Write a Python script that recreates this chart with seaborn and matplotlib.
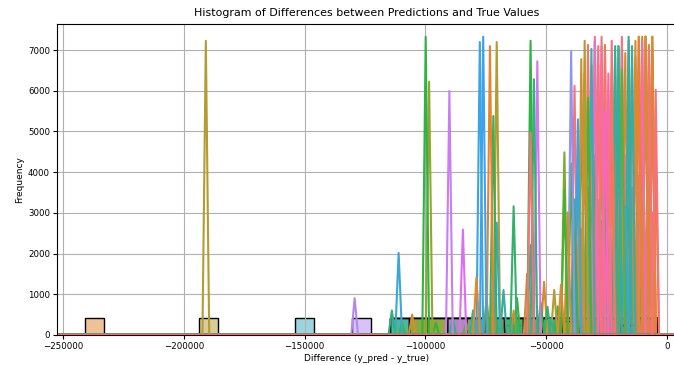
import numpy as np
import pandas as pd
import matplotlib
matplotlib.use("Agg")
import matplotlib.pyplot as plt
import seaborn as sns

# one group per spike: where the spike stands (x), the height its KDE line reaches
# and the line hue (husl degrees), all read off the chart
centers = [-5000, -240700, -191300, -150400, -129500,
           -113200, -111750, -104500, -99750, -98500, -93500, -90200, -87000, -84400, -81000,
           -78600, -77400, -76200, -73700, -72400, -70800, -70000, -65500, -62900, -60500,
           -57100, -55900, -54600, -53400, -49700, -47800, -45500, -43900, -42600, -41800,
           -40500, -39300, -38500, -37700, -36800, -35600, -34400, -33000, -31900, -30800,
           -29800, -29000, -28200, -27300, -26200, -25200, -24000, -23000, -22500, -21900,
           -20300, -19500, -18500, -17400, -16500, -15700, -14500, -13200, -12000, -11200,
           -10300, -9500, -8300, -7300, -6200, -5600,
           # the crowded right part
           -39800, -38900, -38000, -37200, -36300, -35100, -34900, -33700, -33300, -32500,
           -32100, -31400, -30500, -30100, -29500, -28700, -27900, -27700, -26800, -26500,
           -25700, -25000, -24500, -23600, -23300, -22800, -22100, -21300, -20900, -20000,
           -19100, -18900, -18100, -17800, -17000, -16200, -15300, -15000, -14100, -13800,
           -13500, -12700, -12300, -11700, -10900, -10600, -9900, -9200, -8800, -8000,
           -7700, -7000, -6600, -6000, -5300,
           -35500, -34200, -32800, -31700, -30300, -29200, -28000, -26900, -25500, -24300,
           -23100, -22000, -20700, -19600, -18300, -17300, -16000, -14800, -13600, -12400,
           -11100, -9800, -8600, -7400, -6300, -33900, -30900, -27500, -24800, -21600,
           -18700, -15500, -12900, -10100, -7100, -5500,
           # low lines in the middle and left part
           -74500, -71500, -68500, -67000, -64000, -61500, -58500, -56500, -52500, -51000,
           -48500, -46500, -44800, -109000, -106000, -101500, -96000, -92500, -88500, -85500,
           -82500, -80000]
heights = [6000, 0, 7200, 0, 900,
           600, 2010, 0, 7300, 6200, 0, 5970, 0, 2580, 0,
           1420, 7170, 7300, 7070, 5360, 2750, 7170, 0, 3150, 0,
           4960, 7200, 6260, 6700, 690, 0, 0, 1230, 3560, 4470,
           3000, 6950, 2500, 3320, 5280, 6750, 7200, 5800, 7000, 6600,
           7300, 7070, 6000, 7070, 5500, 6930, 4960, 6400, 4000, 7070,
           7070, 7070, 6500, 3150, 5000, 7300, 7070, 6800, 7300, 6500,
           7200, 7300, 7300, 7000, 7300, 6800,
           4200, 1800, 6100, 2200, 3900, 1500, 5600, 6400, 2900, 7100,
           3600, 5100, 7200, 2400, 4300, 6600, 3300, 7300, 6200, 2800,
           7100, 3700, 6400, 2100, 7200, 5800, 3400, 6800, 2600, 5200,
           7300, 2900, 7000, 4400, 6900, 3100, 7200, 2300, 6600, 3600,
           7200, 5100, 2700, 7300, 4800, 7300, 3200, 6400, 7300, 5200,
           7100, 3800, 7300, 5900, 4200,
           2600, 4700, 1900, 5400, 3100, 4400, 2300, 5000, 2900, 4100,
           1800, 4800, 3500, 2200, 5300, 1700, 4000, 2800, 5600, 2000,
           3900, 5100, 2500, 4500, 3000, 5700, 3800, 4600, 5900, 6300,
           5500, 4900, 6100, 5800, 6600, 7000,
           900, 1400, 400, 1100, 600, 900, 1500, 2200, 800, 1300,
           400, 1100, 700, 300, 500, 0, 300, 0, 400, 0,
           300, 600]
hue_deg = [8, 38, 70, 215, 280,
           150, 235, 95, 130, 95, 85, 290, 120, 300, 110,
           40, 240, 245, 35, 135, 225, 70, 175, 140, 45,
           10, 130, 155, 295, 140, 180, 75, 40, 125, 110,
           45, 265, 135, 180, 240, 50, 70, 125, 205, 40,
           340, 10, 5, 355, 330, 12, 0, 15, 40, 170,
           180, 140, 120, 235, 190, 175, 185, 40, 35, 10,
           345, 40, 65, 8, 38, 30,
           125, 40, 10, 70, 180, 8, 130, 40, 175, 12,
           235, 8, 185, 45, 125, 350, 40, 8, 12, 170,
           40, 130, 345, 185, 10, 140, 8, 40, 15, 175,
           8, 45, 185, 10, 40, 130, 12, 38, 8, 190,
           45, 15, 130, 40, 8, 70, 35, 12, 38, 8,
           45, 12, 40, 8, 35,
           8, 40, 12, 35, 8, 45, 10, 40, 15, 38,
           8, 42, 12, 36, 10, 44, 8, 40, 14, 38,
           10, 42, 8, 36, 12, 180, 130, 175, 340, 185,
           130, 180, 70, 185, 125, 8,
           120, 40, 140, 180, 45, 130, 40, 170, 130, 45,
           175, 70, 130, 125, 40, 95, 130, 70, 150, 40,
           120, 180]
bar_count = 415
n_bins = 30
top_peak = 7350
grid_lo, grid_hi, grid_n = -252500, 3700, 184   # KDE evaluation grid (coarse, like the original)

# each group is a tight cluster of 7 points; its KDE is far narrower than the grid step,
# so the drawn line is a triangle whose height depends on where the cluster sits
base = np.array([-1.5, -1.0, -0.5, 0.0, 0.5, 1.0, 1.5])
h1 = len(base) ** -0.2 * base.std(ddof=1)
xs = np.linspace(0, 6, 6001)
shape = (np.exp(-0.5 * ((xs[:, None] - base) / h1) ** 2).sum(axis=1)
         / (len(base) * h1 * np.sqrt(2 * np.pi)))
bin_width = (max(centers) - min(centers)) / n_bins
spread = bar_count * bin_width * shape[0] / top_peak
grid = np.linspace(grid_lo, grid_hi, grid_n)

rows = []
for j, (c, h) in enumerate(zip(centers, heights)):
    gp = grid[np.abs(grid - c).argmin()]
    ratio = min(max(h, 0.1) / top_peak, 1.0)
    off = np.interp(ratio, shape[::-1] / shape[0], xs[::-1]) * spread
    for b in base:
        rows.append({"diff": gp + off + spread * b, "group": f"g{j}",
                     "w": bar_count / len(base)})
df = pd.DataFrame(rows)

order = [f"g{j}" for j in range(len(centers))]
pal = {g: sns.husl_palette(1, h=d / 360)[0] for g, d in zip(order, hue_deg)}

fig = plt.figure(figsize=(6.74, 3.65), dpi=100)
ax = fig.add_axes([57 / 674, 30 / 365, 619 / 674, 311 / 365])
sns.histplot(data=df, x="diff", hue="group", weights="w", bins=n_bins, kde=True,
             kde_kws={"gridsize": grid_n, "cut": 3, "clip": (grid_lo, grid_hi)},
             common_norm=False, palette=pal, hue_order=order, legend=False, ax=ax)
ax.set_xlim(-252500, 3700)
ax.set_ylim(0, 7640)
ax.grid(True)
ax.set_title("Histogram of Differences between Predictions and True Values", fontsize=7.9)
ax.set_xlabel("Difference (y_pred - y_true)", fontsize=6.5, labelpad=2)
ax.set_ylabel("Frequency", fontsize=6.5, labelpad=3)
ax.tick_params(labelsize=6.2, length=3, pad=2)
fig.savefig("out.png", dpi=100)
